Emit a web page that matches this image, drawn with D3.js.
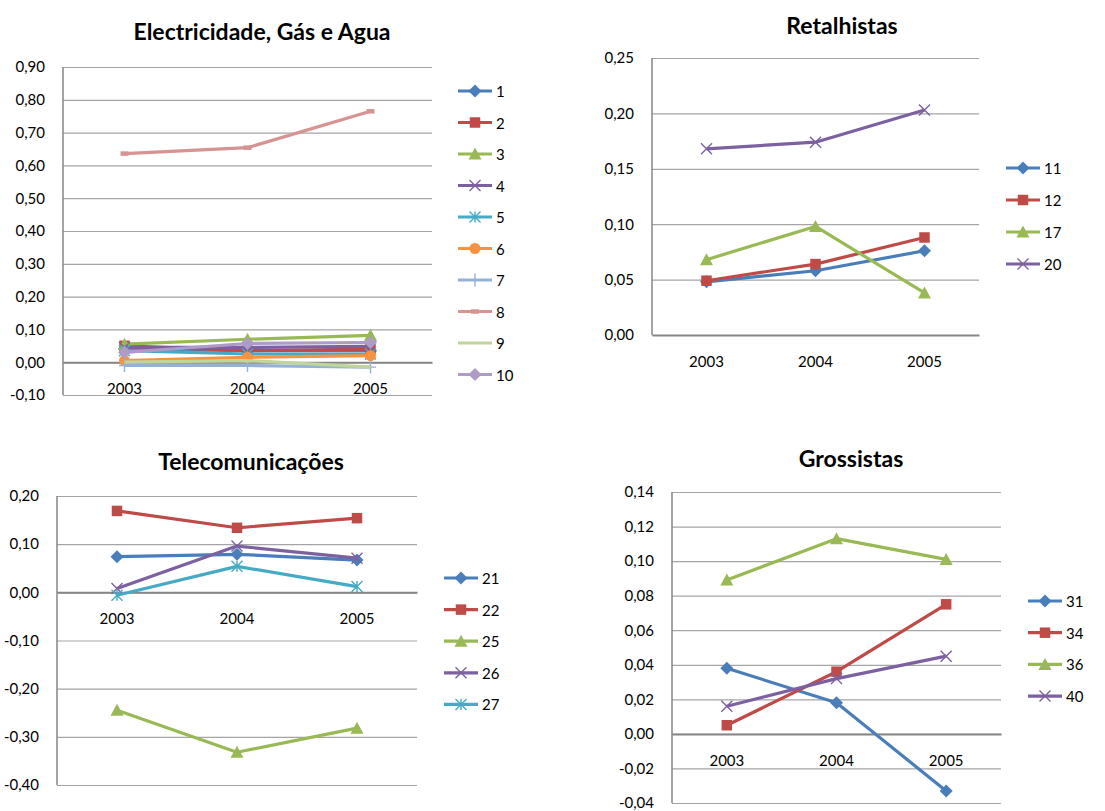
<!DOCTYPE html>
<html>
<head>
<meta charset="utf-8">
<script src="https://cdn.jsdelivr.net/npm/d3@7/dist/d3.min.js"></script>
<style>
  html, body { margin: 0; padding: 0; background: #fff; }
  svg { display: block; }
  text { font-family: Lato, "Open Sans", sans-serif; fill: #000; }
</style>
</head>
<body>
<svg id="chart" width="1105" height="811"></svg>
<script>
// Category axis shared by every panel
const years = ["2003", "2004", "2005"];

// Electricidade, Gás e Agua
const energyNames = ["1", "2", "3", "4", "5", "6", "7", "8", "9", "10"];
const energyValues = [
  [0.040, 0.035, 0.035],
  [0.050, 0.035, 0.040],
  [0.055, 0.070, 0.082],
  [0.045, 0.045, 0.048],
  [0.035, 0.025, 0.025],
  [0.005, 0.015, 0.020],
  [-0.010, -0.010, -0.015],
  [0.636, 0.654, 0.765],
  [0.000, 0.005, -0.015],
  [0.030, 0.057, 0.060]
];

// Retalhistas
const retailNames = ["11", "12", "17", "20"];
const retailValues = [
  [0.048, 0.058, 0.076],
  [0.049, 0.064, 0.088],
  [0.068, 0.098, 0.038],
  [0.168, 0.174, 0.203]
];

// Telecomunicações
const telecomNames = ["21", "22", "25", "26", "27"];
const telecomValues = [
  [0.074, 0.079, 0.067],
  [0.169, 0.134, 0.154],
  [-0.245, -0.332, -0.282],
  [0.008, 0.096, 0.071],
  [-0.006, 0.054, 0.012]
];

// Grossistas
const wholesaleNames = ["31", "34", "36", "40"];
const wholesaleValues = [
  [0.038, 0.018, -0.033],
  [0.005, 0.036, 0.075],
  [0.089, 0.113, 0.101],
  [0.016, 0.032, 0.045]
];

// Office-style palette and marker cycle
const C = {
  blue: "#4A7EBB", red: "#BE4B48", green: "#98B954", purple: "#7D60A0",
  teal: "#46AAC5", orange: "#F69240", ltblue: "#94B1D6", pink: "#D79391",
  ltgreen: "#BFD599", lavender: "#AC9CC6"
};

const fmt = d3.formatLocale({
  decimal: ",", thousands: ".", grouping: [3], currency: ["", ""], minus: "-"
}).format(".2f");

const svg = d3.select("#chart");

// Marker renderer
function drawMarker(g, type, color, x, y) {
  const s = 5.5;
  if (type === "diamond") {
    g.append("path").attr("d", "M0,-6.5L6.5,0L0,6.5L-6.5,0Z")
      .attr("transform", `translate(${x},${y})`).attr("fill", color);
  } else if (type === "square") {
    g.append("path").attr("d", d3.symbol(d3.symbolSquare, 110)())
      .attr("transform", `translate(${x},${y})`).attr("fill", color);
  } else if (type === "triangle") {
    g.append("path").attr("d", `M0,${-s - 1}L${s + 1},${s}L${-s - 1},${s}Z`)
      .attr("transform", `translate(${x},${y})`).attr("fill", color);
  } else if (type === "circle") {
    g.append("circle").attr("cx", x).attr("cy", y).attr("r", s).attr("fill", color);
  } else if (type === "x") {
    g.append("path").attr("d", `M${-s},${-s}L${s},${s}M${-s},${s}L${s},${-s}`)
      .attr("transform", `translate(${x},${y})`).attr("stroke", color)
      .attr("stroke-width", 1.4).attr("fill", "none");
  } else if (type === "star") {
    g.append("path").attr("d", `M${-s},${-s}L${s},${s}M${-s},${s}L${s},${-s}M0,${-s}L0,${s}`)
      .attr("transform", `translate(${x},${y})`).attr("stroke", color)
      .attr("stroke-width", 1.4).attr("fill", "none");
  } else if (type === "plus") {
    g.append("path").attr("d", `M0,${-s - 1}L0,${s + 1}M${-s},0L${s},0`)
      .attr("transform", `translate(${x},${y})`).attr("stroke", color)
      .attr("stroke-width", 1.4).attr("fill", "none");
  } else if (type === "dash") {
    g.append("path").attr("d", `M${-4},0L${4},0`)
      .attr("transform", `translate(${x},${y})`).attr("stroke", color)
      .attr("stroke-width", 4.5).attr("fill", "none");
  }
}

function drawPanel(cfg) {
  const g = svg.append("g");
  const x = d3.scaleBand().domain(years).range([cfg.left, cfg.right]);
  const y = d3.scaleLinear().domain(cfg.domain).range([cfg.bottom, cfg.top]);
  const cx = d => x(d) + x.bandwidth() / 2;

  // Title
  g.append("text").attr("x", cfg.titleX).attr("y", cfg.titleY)
    .attr("text-anchor", "middle").attr("dominant-baseline", "central")
    .attr("font-size", 23).attr("font-weight", "bold").text(cfg.title);

  // Value axis with gridlines
  const yAxis = g.append("g").attr("transform", `translate(${cfg.left},0)`)
    .call(d3.axisLeft(y).ticks(cfg.ticks).tickFormat(fmt)
      .tickSize(-(cfg.right - cfg.left)).tickPadding(18));
  yAxis.select(".domain").remove();
  yAxis.selectAll(".tick line").attr("stroke", "#A5A5A5").attr("stroke-width", 1.2);
  yAxis.selectAll(".tick text").attr("font-size", 15).attr("font-family", "Lato")
    .attr("fill", "#000");

  // Vertical axis line
  g.append("line").attr("x1", cfg.left).attr("x2", cfg.left)
    .attr("y1", cfg.top).attr("y2", cfg.bottom)
    .attr("stroke", "#868686").attr("stroke-width", 1.5);

  // Category axis through zero
  const xAxis = g.append("g").attr("transform", `translate(0,${y(0)})`)
    .call(d3.axisBottom(x).tickSize(0).tickPadding(21));
  xAxis.select(".domain").attr("stroke", "#868686").attr("stroke-width", 2);
  xAxis.selectAll(".tick text").attr("font-size", 15).attr("font-family", "Lato")
    .attr("fill", "#000");

  // Series lines and markers
  const line = d3.line().x((d, i) => cx(years[i])).y(d => y(d));
  cfg.names.forEach((name, k) => {
    const vals = cfg.values[k];
    const s = g.append("g");
    s.append("path").attr("d", line(vals)).attr("fill", "none")
      .attr("stroke", cfg.colors[k]).attr("stroke-width", 3.2)
      .attr("stroke-linejoin", "round");
    vals.forEach((v, i) => drawMarker(s, cfg.markers[k], cfg.colors[k], cx(years[i]), y(v)));
  });

  // Legend
  cfg.names.forEach((name, k) => {
    const ly = cfg.legendY + k * cfg.legendDy;
    const lg = g.append("g");
    lg.append("line").attr("x1", cfg.legendX).attr("x2", cfg.legendX + 34)
      .attr("y1", ly).attr("y2", ly).attr("stroke", cfg.colors[k]).attr("stroke-width", 3.2);
    drawMarker(lg, cfg.markers[k], cfg.colors[k], cfg.legendX + 17, ly);
    lg.append("text").attr("x", cfg.legendX + 38).attr("y", ly)
      .attr("dominant-baseline", "central").attr("font-size", 15).text(name);
  });
}

drawPanel({
  title: "Electricidade, Gás e Agua", titleX: 262, titleY: 31,
  left: 63, right: 432, top: 67, bottom: 395, domain: [-0.1, 0.9], ticks: 10,
  names: energyNames, values: energyValues,
  colors: [C.blue, C.red, C.green, C.purple, C.teal, C.orange, C.ltblue, C.pink, C.ltgreen, C.lavender],
  markers: ["diamond", "square", "triangle", "x", "star", "circle", "plus", "dash", "none", "diamond"],
  legendX: 458, legendY: 91, legendDy: 31.5
});

drawPanel({
  title: "Retalhistas", titleX: 842, titleY: 25,
  left: 652, right: 979, top: 58, bottom: 335, domain: [0, 0.25], ticks: 5,
  names: retailNames, values: retailValues,
  colors: [C.blue, C.red, C.green, C.purple],
  markers: ["diamond", "square", "triangle", "x"],
  legendX: 1006, legendY: 168, legendDy: 32
});

drawPanel({
  title: "Telecomunicações", titleX: 251, titleY: 461,
  left: 57, right: 417, top: 496, bottom: 785, domain: [-0.4, 0.2], ticks: 6,
  names: telecomNames, values: telecomValues,
  colors: [C.blue, C.red, C.green, C.purple, C.teal],
  markers: ["diamond", "square", "triangle", "x", "star"],
  legendX: 444, legendY: 578, legendDy: 31.6
});

drawPanel({
  title: "Grossistas", titleX: 851, titleY: 458,
  left: 672, right: 1001, top: 492, bottom: 803, domain: [-0.04, 0.14], ticks: 9,
  names: wholesaleNames, values: wholesaleValues,
  colors: [C.blue, C.red, C.green, C.purple],
  markers: ["diamond", "square", "triangle", "x"],
  legendX: 1028, legendY: 601, legendDy: 31.7
});
</script>
</body>
</html>
